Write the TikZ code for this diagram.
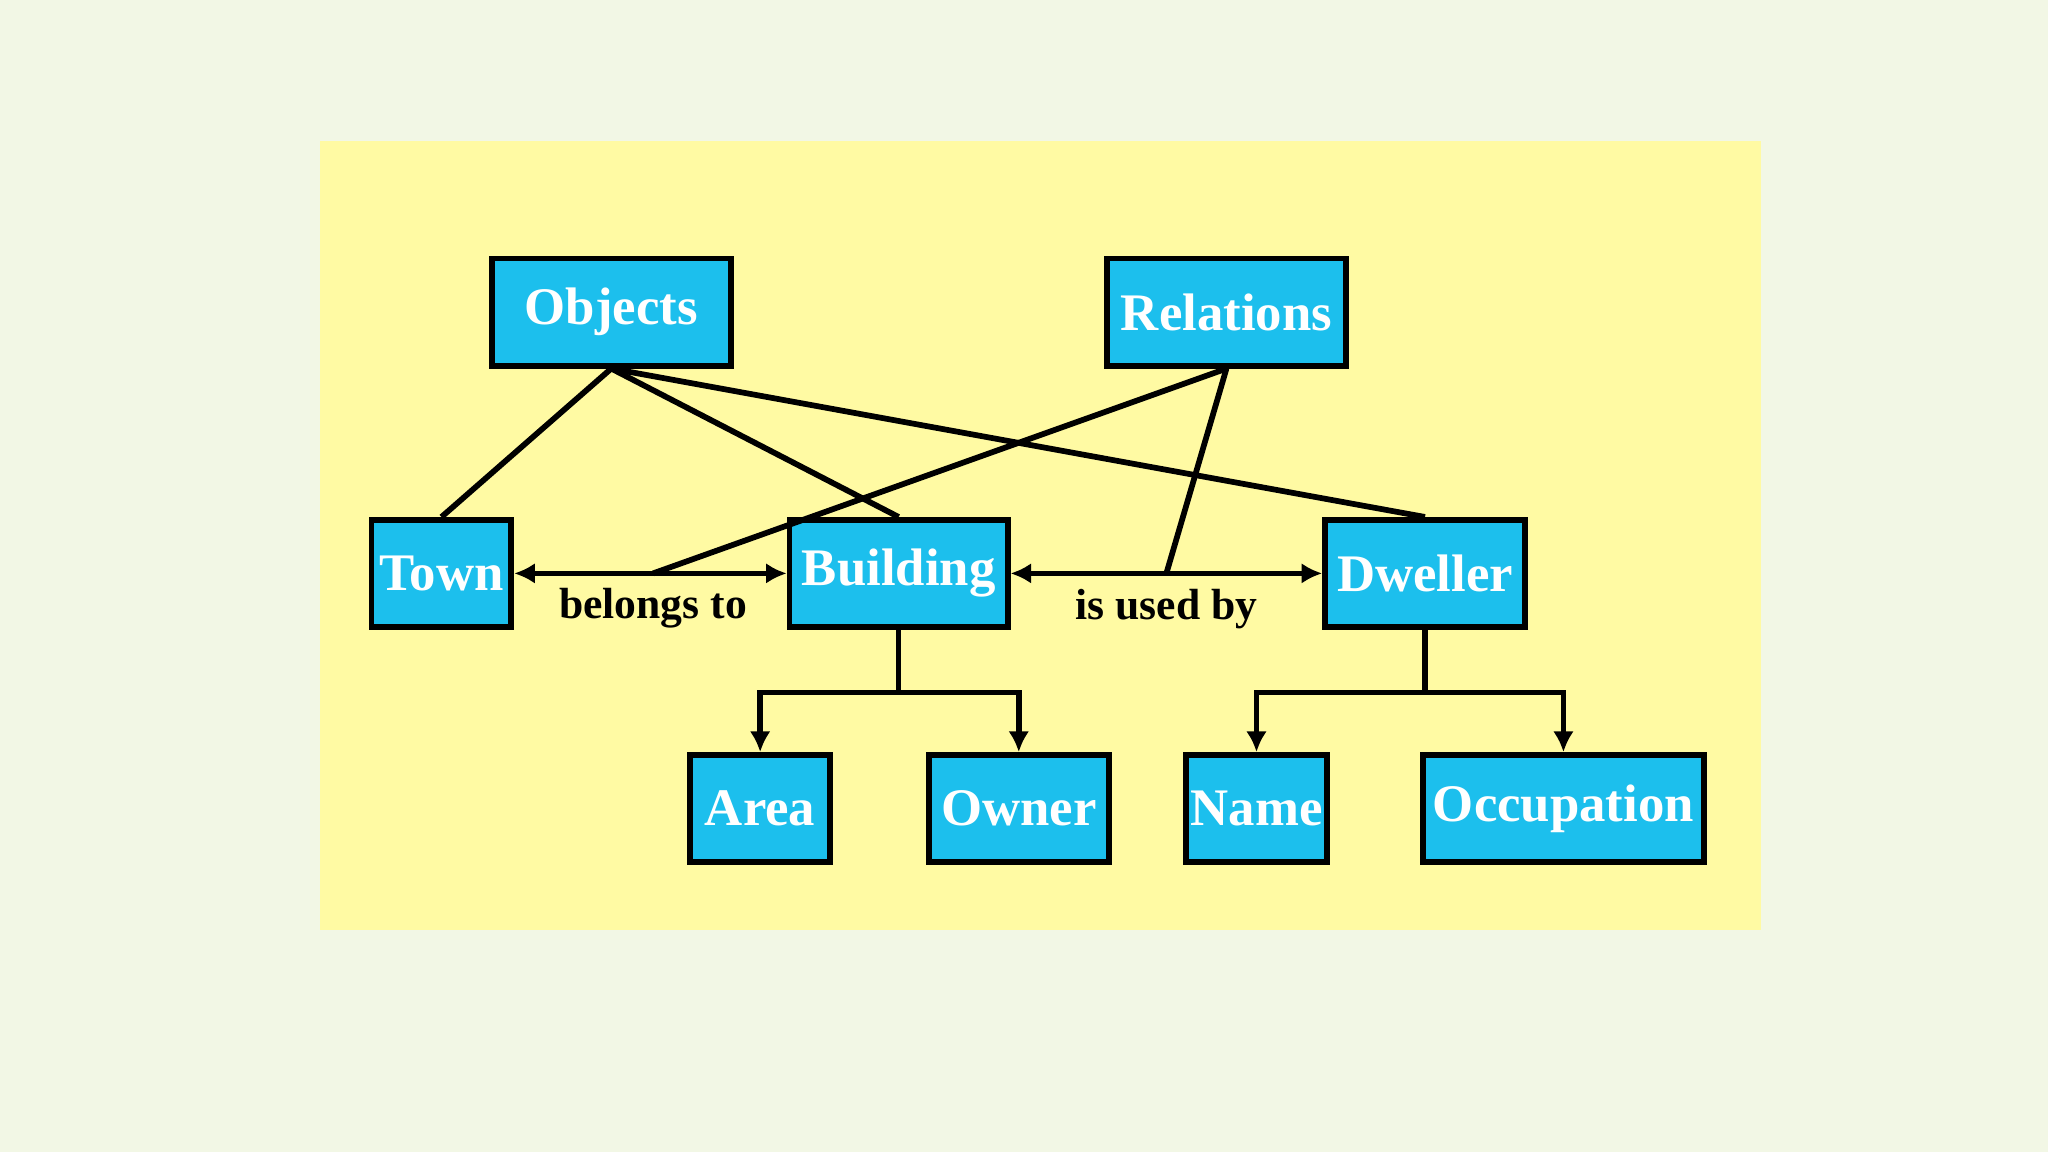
\documentclass[tikz,border=0pt]{standalone}
\usepackage{fontspec}
\setmainfont{Liberation Serif}
\usetikzlibrary{arrows.meta,positioning,calc}
\definecolor{pagegreen}{rgb}{.95,.97,.90}
\definecolor{panelyellow}{rgb}{1,.98,.64}
\definecolor{boxcyan}{rgb}{.11,.75,.93}

\tikzset{
  entity/.style={draw=black,line width=2.5pt,fill=boxcyan,text=white,
    font=\bfseries\fontsize{23}{26}\selectfont,minimum height=1.64cm,inner sep=0pt},
  link/.style={line width=2.5pt,black},
  relarrow/.style={line width=2.5pt,{Latex[length=9pt,width=9pt]}-{Latex[length=9pt,width=9pt]}},
  down/.style={line width=2.5pt,-{Latex[length=9pt,width=9pt]}},
  rellabel/.style={font=\bfseries\fontsize{19}{22}\selectfont,text=black}
}

\begin{document}
\begin{tikzpicture}[x=0.02cm,y=-0.02cm]
    % page and panel
    \fill[pagegreen] (0,0) rectangle (1568,882);
    \useasboundingbox (0,0) rectangle (1568,882);
    \fill[panelyellow] (245,108) rectangle (1348,712);

    % boxes
    \node[entity,minimum width=3.66cm] (objects)   at (468,239) {Objects};
    \node[entity,minimum width=3.66cm] (relations) at (939,239) {Relations};
    \node[entity,minimum width=2.14cm] (town)      at (338,439) {Town};
    \node[entity,minimum width=3.34cm] (building)  at (688,439) {Building};
    \node[entity,minimum width=3.06cm] (dweller)   at (1091,439) {Dweller};
    \node[entity,minimum width=2.14cm] (area)      at (582,619) {Area};
    \node[entity,minimum width=2.76cm] (owner)     at (780,619) {Owner};
    \node[entity,minimum width=2.16cm] (name)      at (962,619) {Name};
    \node[entity,minimum width=4.30cm] (occupation) at (1197,619) {Occupation};

    % relations between objects
    \draw[relarrow] (town.east) -- (building.west);
    \draw[relarrow] (building.east) -- (dweller.west);
    \coordinate (belongs) at (500,439);
    \coordinate (used)    at (893,439);
    \node[rellabel] (belongslbl) at (500,466) {belongs to};
    \node[rellabel] (usedlbl)    at (893,466) {is used by};

    % Objects and Relations links
    \draw[link] (objects.south) -- (town.north);
    \draw[link] (objects.south) -- (building.north);
    \draw[link] (objects.south) -- (dweller.north);
    \draw[link] (relations.south) -- (belongs);
    \draw[link] (relations.south) -- (used);

    % attribute trees
    \draw[link] (building.south) -- ++(0,48) coordinate (bsplit);
    \draw[down] (bsplit) -| (area.north);
    \draw[down] (bsplit) -| (owner.north);
    \draw[link] (dweller.south) -- ++(0,48) coordinate (dsplit);
    \draw[down] (dsplit) -| (name.north);
    \draw[down] (dsplit) -| (occupation.north);
\end{tikzpicture}
\end{document}
